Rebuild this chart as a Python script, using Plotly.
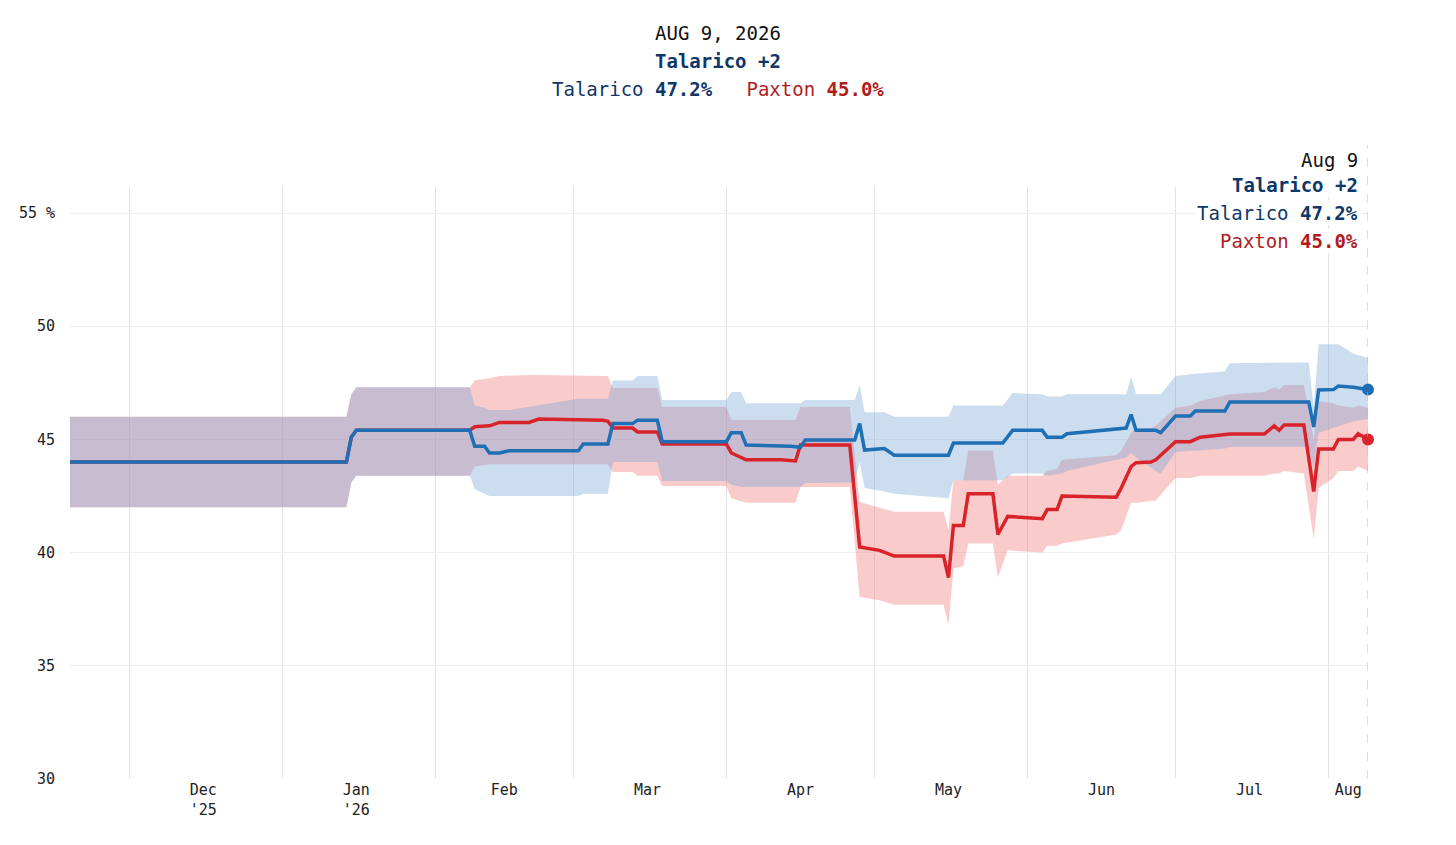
import plotly.graph_objects as go

# ---------------- data ----------------
blue_dates = ["2025-11-19","2026-01-14","2026-01-15","2026-01-16","2026-02-08","2026-02-09","2026-02-11","2026-02-12",
              "2026-02-14","2026-02-16","2026-03-02","2026-03-03","2026-03-08","2026-03-09","2026-03-13","2026-03-14",
              "2026-03-18","2026-03-19","2026-04-01","2026-04-02","2026-04-04","2026-04-05","2026-04-14","2026-04-16",
              "2026-04-17","2026-04-27","2026-04-28","2026-04-29","2026-05-03","2026-05-05","2026-05-16","2026-05-17",
              "2026-05-27","2026-05-29","2026-06-04","2026-06-05","2026-06-08","2026-06-09","2026-06-21","2026-06-22",
              "2026-06-23","2026-06-27","2026-06-28","2026-07-01","2026-07-04","2026-07-05","2026-07-11","2026-07-12",
              "2026-07-28","2026-07-29","2026-07-30","2026-08-02","2026-08-03","2026-08-06","2026-08-09"]
talarico = [44.0,44.0,45.1,45.4,45.4,44.7,44.7,44.4,44.4,44.5,44.5,44.8,44.8,45.7,45.7,45.85,45.85,44.9,44.9,45.3,45.3,
            44.75,44.7,44.65,44.97,44.97,45.7,44.53,44.6,44.3,44.3,44.84,44.84,45.4,45.4,45.1,45.1,45.25,45.5,46.1,45.4,
            45.4,45.3,46.03,46.03,46.25,46.25,46.65,46.65,45.55,47.18,47.2,47.36,47.3,47.2]
talarico_hi = [46.0,46.0,47.0,47.3,47.3,46.5,46.4,46.3,46.3,46.3,46.8,46.8,46.8,47.6,47.6,47.8,47.8,46.74,46.74,47.1,47.1,
               46.6,46.6,46.6,46.74,46.74,47.4,46.2,46.2,46.0,46.0,46.5,46.5,47.05,47.0,46.9,46.9,47.0,47.0,47.75,47.0,
               47.0,47.0,47.8,47.9,47.9,48.0,48.37,48.4,46.4,49.2,49.2,49.2,48.8,48.6]
talarico_lo = [42.0,42.0,43.1,43.4,43.4,42.8,42.6,42.5,42.5,42.5,42.5,42.6,42.6,44.0,44.0,44.0,44.0,43.16,43.16,43.0,42.9,
               42.9,42.9,42.9,43.07,43.1,44.0,42.85,42.7,42.6,42.4,43.2,43.2,43.5,43.5,43.4,43.5,43.6,44.2,44.4,44.2,
               43.6,43.5,44.44,44.5,44.5,44.6,44.66,44.66,43.7,45.3,45.5,45.6,45.8,45.9]

red_dates = ["2025-11-19","2026-01-14","2026-01-15","2026-01-16",
             "2026-02-08","2026-02-09","2026-02-12","2026-02-14","2026-02-20","2026-02-22","2026-03-07","2026-03-08",
             "2026-03-09","2026-03-13","2026-03-14","2026-03-18","2026-03-19","2026-04-01","2026-04-02","2026-04-05",
             "2026-04-12","2026-04-15","2026-04-16","2026-04-26","2026-04-28","2026-05-02","2026-05-05","2026-05-15",
             "2026-05-16","2026-05-17","2026-05-19","2026-05-20","2026-05-25","2026-05-26","2026-05-28","2026-06-04",
             "2026-06-05","2026-06-07","2026-06-08","2026-06-19","2026-06-20","2026-06-22","2026-06-23","2026-06-26",
             "2026-06-27","2026-07-01","2026-07-04","2026-07-06","2026-07-12","2026-07-19","2026-07-21","2026-07-22",
             "2026-07-23","2026-07-27","2026-07-29","2026-07-30","2026-08-02","2026-08-03","2026-08-06","2026-08-07",
             "2026-08-09"]
paxton = [44.0,44.0,45.1,45.4,
          45.4,45.56,45.6,45.75,45.75,45.9,45.85,45.8,45.5,45.5,45.33,45.33,44.8,44.8,44.4,44.1,44.1,44.05,44.75,44.75,
          40.25,40.1,39.85,39.85,38.9,41.2,41.2,42.6,42.6,40.8,41.6,41.5,41.9,41.9,42.5,42.45,42.85,43.8,43.97,44.0,
          44.1,44.9,44.9,45.1,45.24,45.24,45.6,45.4,45.64,45.64,42.7,44.58,44.58,45.0,45.0,45.25,45.0]
paxton_hi = [46.0,46.0,47.0,47.3,
             47.3,47.6,47.7,47.8,47.85,47.85,47.8,47.8,47.27,47.27,47.27,47.27,46.43,46.43,45.86,45.86,45.86,45.86,46.43,
             46.43,42.24,42.0,41.8,41.8,41.0,43.2,43.2,44.5,44.5,43.0,43.4,43.4,43.6,43.7,44.1,44.3,44.5,45.3,45.5,45.5,
             45.6,46.4,46.5,46.7,47.0,47.1,47.3,47.2,47.4,47.4,45.0,46.7,46.6,46.5,46.4,46.5,46.4]
paxton_lo = [42.0,42.0,43.1,43.4,
             43.4,43.8,43.9,43.9,43.9,43.9,43.9,43.9,43.56,43.56,43.4,43.4,42.94,42.94,42.4,42.2,42.2,42.2,42.9,42.9,
             38.04,37.9,37.7,37.7,36.8,39.3,39.4,40.4,40.4,38.9,40.1,40.0,40.3,40.3,40.4,40.8,41.0,42.2,42.2,42.3,
             42.3,43.3,43.3,43.4,43.4,43.4,43.5,43.5,43.6,43.5,40.6,42.85,43.3,43.6,43.6,43.8,43.6]

month_label_dates = ["2025-12-16","2026-01-16","2026-02-15","2026-03-16","2026-04-16","2026-05-16","2026-06-16","2026-07-16","2026-08-05"]
month_labels = ["Dec<br>'25","Jan<br>'26","Feb","Mar","Apr","May","Jun","Jul","Aug"]
y_ticks = [30, 35, 40, 45, 50, 55]
y_tick_labels = ["30", "35", "40", "45", "50", "55 %"]

# ---------------- style ----------------
FONT = "DejaVu Sans Mono"
BLUE = "#1f6fb4"
RED = "#d9232a"
NAVY = "#0f3768"
DRED = "#b01c1c"
BLUE_BAND = "rgba(120,165,215,0.38)"
RED_BAND = "rgba(240,130,130,0.42)"

ML, MR, MT, MB = 62, 96, 179, 74
W, H = 1456, 845
PW, PH = W - ML - MR, H - MT - MB
OFF = 8  # page body offset

def px_x(x):
    return (x - OFF - ML) / PW

def px_y(y):
    return 1 - (y - OFF - MT) / PH

fig = go.Figure()

def band(dates, lo, hi, color):
    fig.add_trace(go.Scatter(x=dates, y=lo, mode="lines", line=dict(width=0), hoverinfo="skip", showlegend=False))
    fig.add_trace(go.Scatter(x=dates, y=hi, mode="lines", line=dict(width=0), fill="tonexty",
                             fillcolor=color, hoverinfo="skip", showlegend=False))

band(red_dates, paxton_lo, paxton_hi, RED_BAND)
band(blue_dates, talarico_lo, talarico_hi, BLUE_BAND)

fig.add_trace(go.Scatter(x=red_dates, y=paxton, mode="lines", line=dict(color=RED, width=3.5), showlegend=False))
fig.add_trace(go.Scatter(x=blue_dates, y=talarico, mode="lines", line=dict(color=BLUE, width=3.5), showlegend=False))
fig.add_trace(go.Scatter(x=[blue_dates[-1]], y=[talarico[-1]], mode="markers",
                         marker=dict(color=BLUE, size=12), showlegend=False, cliponaxis=False))
fig.add_trace(go.Scatter(x=[red_dates[-1]], y=[paxton[-1]], mode="markers",
                         marker=dict(color=RED, size=12), showlegend=False, cliponaxis=False))

fig.add_shape(type="line", xref="x", yref="paper", x0=blue_dates[-1], x1=blue_dates[-1], y0=0, y1=px_y(145),
              line=dict(color="#b8bcc4", width=1, dash="dash"))

fig.update_layout(
    width=W, height=H,
    margin=dict(l=ML, r=MR, t=MT, b=MB),
    paper_bgcolor="white", plot_bgcolor="white",
    font=dict(family=FONT, size=15, color="#222"),
    xaxis=dict(range=[blue_dates[0], blue_dates[-1]], tickmode="array", tickvals=month_label_dates,
               ticktext=month_labels, showgrid=False, zeroline=False, showline=False, ticks="",
               minor=dict(dtick="M1", tick0="2025-12-01", showgrid=True, gridcolor="#e3e3e6", gridwidth=1)),
    yaxis=dict(range=[30, 56.15], tickmode="array", tickvals=y_ticks, ticktext=y_tick_labels,
               showgrid=True, gridcolor="#efeff1", zeroline=False, showline=False, ticks="",
               ticklabelstandoff=14, tickfont=dict(size=15)),
)

title_lines = [
    ("AUG 9, 2026", 33),
    (f"<b><span style='color:{NAVY}'>Talarico +2</span></b>", 61),
    (f"<span style='color:{NAVY}'>Talarico <b>{talarico[-1]:.1f}%</b></span>   "
     f"<span style='color:{DRED}'>Paxton <b>{paxton[-1]:.1f}%</b></span>", 89),
]
for txt, ypx in title_lines:
    fig.add_annotation(text=txt, xref="paper", yref="paper", x=px_x(718), y=px_y(ypx),
                       xanchor="center", yanchor="middle", showarrow=False,
                       font=dict(size=19, color="#111", family=FONT))

side_lines = [
    ("Aug 9", 160, "#111"),
    ("<b>Talarico +2</b>", 185, NAVY),
    (f"Talarico <b>{talarico[-1]:.1f}%</b>", 213, NAVY),
    (f"Paxton <b>{paxton[-1]:.1f}%</b>", 241, DRED),
]
for txt, ypx, col in side_lines:
    fig.add_annotation(text=txt, xref="paper", yref="paper", x=px_x(1360), y=px_y(ypx),
                       xanchor="right", yanchor="middle", showarrow=False,
                       bgcolor="rgba(255,255,255,0.85)", font=dict(size=19, color=col, family=FONT))

fig.write_html("out.html")
